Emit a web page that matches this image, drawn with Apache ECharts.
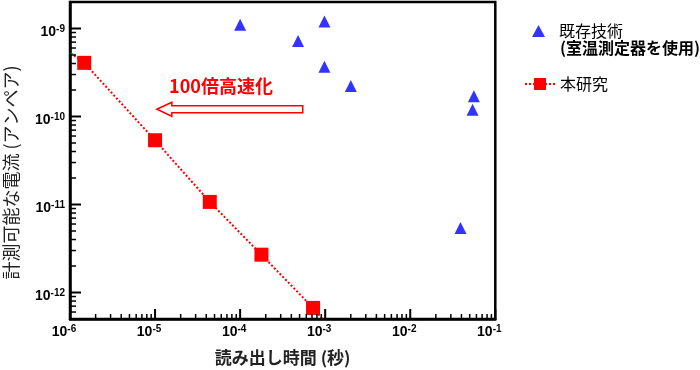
<!DOCTYPE html>
<html><head><meta charset="utf-8">
<script src="https://cdn.jsdelivr.net/npm/echarts@6/dist/echarts.min.js"></script>
<style>html,body{margin:0;padding:0;background:#fff}#c{width:700px;height:370px}</style>
</head><body><div id="c"></div>
<script>
// ---- data ----
const thisWorkX = [1.47e-6, 1.0e-5, 4.4e-5, 1.78e-4, 7.2e-4];
const thisWorkY = [4.07e-10, 5.37e-11, 1.07e-11, 2.69e-12, 6.68e-13];
const trendStart = [1.02e-6, 5.24e-10];
const trendEnd = [9.3e-4, 5.0e-13];
const existingX = [1.0e-4, 4.8e-4, 9.8e-4, 9.8e-4, 2.0e-3, 5.6e-2, 5.4e-2, 3.9e-2];
const existingY = [1.1e-9, 7.2e-10, 1.2e-9, 3.67e-10, 2.22e-10, 1.7e-10, 1.19e-10, 5.4e-12];
const xTickExponents = [-6, -5, -4, -3, -2, -1];
const yTickExponents = [-12, -11, -10, -9];
const xRange = [1e-6, 1e-1];
const yRange = [5e-13, 2e-9];
const seriesNames = ['既存技術', '本研究'];
const legendSubLabel = '(室温測定器を使用)';
const xTitle = '読み出し時間 (秒)';
const yTitle = '計測可能な電流 (アンペア)';
const annotationText = '100倍高速化';
const annotationTextAt = [5.96e-5, 2.19e-10];
const arrowFrom = [5.45e-4, 1.21e-10];
const arrowTo = [1.05e-5, 1.21e-10];

// ---- tick positions on the log axes ----
const majorX = xTickExponents.map(e => Math.pow(10, e));
const majorY = yTickExponents.map(e => Math.pow(10, e));
const minorX = [];
for (let e = -6; e <= -2; e++) for (let k = 2; k <= 9; k++) minorX.push(k * Math.pow(10, e));
const minorY = [];
for (let e = -13; e <= -10; e++) for (let k = 2; k <= 9; k++) {
  const v = k * Math.pow(10, e);
  if (v > yRange[0] * 1.0001 && v < yRange[1] * 0.9999) minorY.push(v);
}

const NUM_FONT = 'Liberation Sans';
const CJK_FONT = 'Noto Sans CJK JP';

function powLabel(exps) {
  return function (v) {
    const l = Math.log10(v);
    const r = Math.round(l);
    if (Math.abs(l - r) > 1e-6 || exps.indexOf(r) < 0) return '';
    return '{b|10}{s|' + r + '}';
  };
}
const labelRich = {
  b: { fontSize: 14, fontWeight: 'bold', fontFamily: NUM_FONT, color: '#000', lineHeight: 16 },
  s: { fontSize: 10, fontWeight: 'bold', fontFamily: NUM_FONT, color: '#000', lineHeight: 8, verticalAlign: 'top' }
};

const chart = echarts.init(document.getElementById('c'));

const redData = [{ value: trendStart, symbol: 'none' }]
  .concat(thisWorkX.map((x, i) => [x, thisWorkY[i]]))
  .concat([{ value: trendEnd, symbol: 'none' }]);

const axisCommon = {
  type: 'log', logBase: 10,
  axisLine: { show: true, lineStyle: { color: '#000', width: 2.5 } },
  axisTick: { show: false },
  minorTick: { show: false },
  splitLine: { show: false }
};

chart.setOption({
  animation: false,
  grid: {
    left: 70, right: 204.7, top: 2, bottom: 51,
    show: true, borderColor: '#000', borderWidth: 2.5,
    containLabel: false, outerBoundsMode: 'none'
  },
  xAxis: Object.assign({}, axisCommon, {
    min: xRange[0], max: xRange[1],
    axisLabel: {
      margin: 5, fontSize: 14, fontWeight: 'bold', fontFamily: NUM_FONT, color: '#000',
      formatter: powLabel(xTickExponents), rich: labelRich,
      padding: [0, 12, 0, 0], showMinLabel: true, showMaxLabel: true
    },
    name: xTitle, nameLocation: 'middle', nameGap: 30,
    nameTextStyle: { fontSize: 17, fontWeight: 'bold', color: '#222', fontFamily: CJK_FONT }
  }),
  yAxis: Object.assign({}, axisCommon, {
    min: yRange[0], max: yRange[1],
    axisLabel: {
      margin: 5, fontSize: 14, fontWeight: 'bold', fontFamily: NUM_FONT, color: '#000',
      formatter: powLabel(yTickExponents), rich: labelRich,
      padding: [8, 0, 0, 0], showMinLabel: true, showMaxLabel: true
    },
    name: yTitle, nameLocation: 'middle', nameGap: 50, nameRotate: 90,
    nameTextStyle: { fontSize: 18, color: '#222', fontFamily: CJK_FONT, padding: [0, 24, 0, 0] }
  }),
  legend: [
    {
      data: [{ name: seriesNames[0], icon: 'triangle' }], left: 532, top: 23, padding: 0,
      itemWidth: 13, itemHeight: 12, selectedMode: false,
      textStyle: { fontSize: 16, color: '#000', fontFamily: CJK_FONT, padding: [0, 0, 0, 9] }
    },
    {
      data: [seriesNames[1]], left: 524, top: 76, padding: 0,
      itemWidth: 30, itemHeight: 15, selectedMode: false,
      textStyle: { fontSize: 16, color: '#000', fontFamily: CJK_FONT }
    }
  ],
  series: [
    {
      type: 'scatter', name: seriesNames[0],
      data: existingX.map((x, i) => [x, existingY[i]]),
      symbol: 'triangle', symbolSize: 12,
      itemStyle: { color: '#0000ff' }, z: 4
    },
    {
      type: 'line', name: seriesNames[1], data: redData,
      symbol: 'rect', symbolSize: 14,
      itemStyle: { color: '#ff0000' },
      lineStyle: { color: '#ff0000', width: 2, type: 'dotted' },
      z: 3
    }
  ]
});

// ---- tick marks and annotation placed through the axes' scales ----
const toPx = v => chart.convertToPixel({ gridIndex: 0 }, v);
const tickEls = [];
function addTicks(values, onX, len, width) {
  values.forEach(v => {
    const p = toPx(onX ? [v, yRange[0]] : [xRange[0], v]);
    if (!isFinite(p[0]) || !isFinite(p[1])) return;
    tickEls.push({
      type: 'line', silent: true, z: 20,
      shape: onX ? { x1: p[0], y1: p[1], x2: p[0], y2: p[1] - len } : { x1: p[0], y1: p[1], x2: p[0] + len, y2: p[1] },
      style: { stroke: '#000', lineWidth: width }
    });
  });
}
addTicks(majorX, true, 10, 2);
addTicks(minorX, true, 5, 1.5);
addTicks(majorY, false, 11, 2);
addTicks(minorY, false, 6, 1.5);

const pFrom = toPx(arrowFrom);
const pTo = toPx(arrowTo);
const pText = toPx(annotationTextAt);
const ay = pTo[1];
const hx = pTo[0] + 15;
const arrowPts = [
  [pTo[0], ay], [hx, ay - 7], [hx, ay - 3.5], [pFrom[0], ay - 3.5],
  [pFrom[0], ay + 3.5], [hx, ay + 3.5], [hx, ay + 7]
];
chart.setOption({
  graphic: tickEls.concat([
    { type: 'polygon', shape: { points: arrowPts }, style: { fill: '#fff', stroke: '#ff0000', lineWidth: 1.5 }, z: 10 },
    { type: 'text', x: pText[0], y: pText[1], z: 10,
      style: { text: annotationText, fill: '#ff0000', fontSize: 18, fontWeight: 'bold', fontFamily: CJK_FONT, align: 'center', verticalAlign: 'middle' } },
    { type: 'text', x: 560, y: 47.5, z: 10,
      style: { text: legendSubLabel, fill: '#000', fontSize: 16, fontWeight: 'bold', fontFamily: CJK_FONT, align: 'left', verticalAlign: 'middle' } }
  ])
});
</script>
</body></html>
